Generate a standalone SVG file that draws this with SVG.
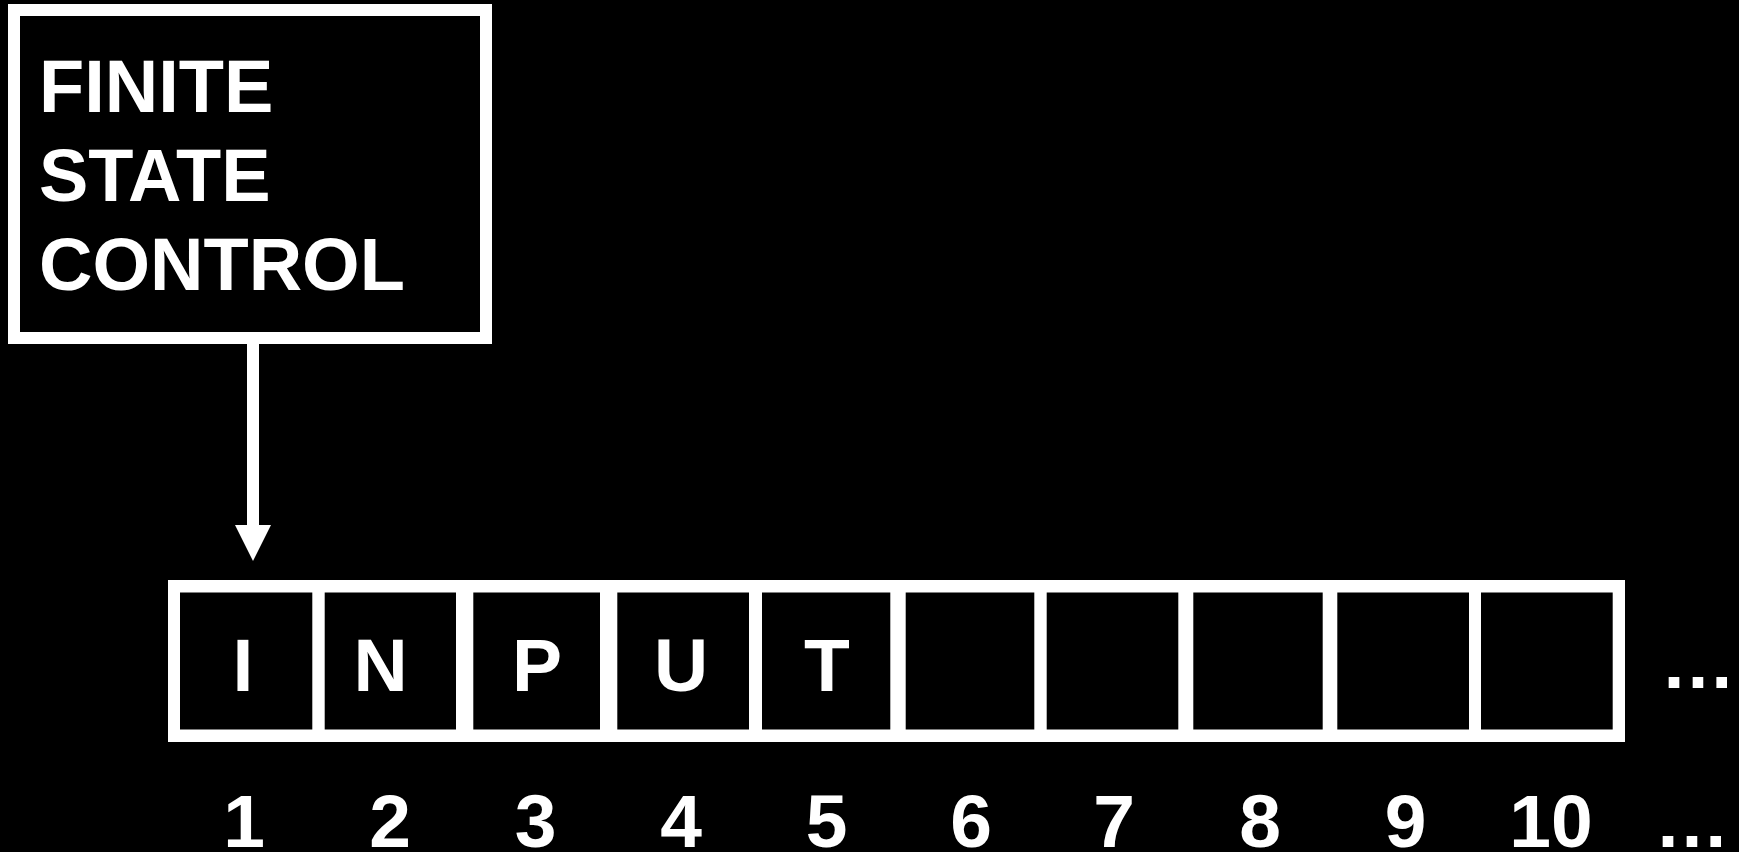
<svg xmlns="http://www.w3.org/2000/svg" width="1739" height="852" viewBox="0 0 1739 852">
  <defs>
    <style>
      .t { font-family: "Liberation Sans", Arial, sans-serif; font-weight: bold; font-size: 75px; fill: #ffffff; }
      .b { font-size: 74px; }
      .m { text-anchor: middle; }
      .cell { fill: #000000; }
    </style>
  </defs>
  <rect x="0" y="0" width="1739" height="852" fill="#000000"/>

  <g id="finite-state-control">
    <rect x="14" y="10" width="472" height="328" fill="#000000" stroke="#ffffff" stroke-width="12"/>
    <text class="t b" x="39" y="112">FINITE</text>
    <text class="t b" x="39" y="201">STATE</text>
    <text class="t b" x="39" y="290">CONTROL</text>
  </g>

  <g id="connectors">
    <line x1="253" y1="344" x2="253" y2="526" stroke="#ffffff" stroke-width="12"/>
    <polygon points="235,525 271,525 253,561" fill="#ffffff"/>
  </g>

  <g id="tape">
    <rect x="168" y="580" width="1457" height="162" fill="#ffffff"/>
    <g id="cell-1"><rect class="cell" x="180" y="592.5" width="132.3" height="137"/><text class="t m" x="243" y="691">I</text></g>
    <g id="cell-2"><rect class="cell" x="324.7" y="592.5" width="131.3" height="137"/><text class="t m" x="380.5" y="691">N</text></g>
    <g id="cell-3"><rect class="cell" x="473.3" y="592.5" width="126.7" height="137"/><text class="t m" x="537" y="691">P</text></g>
    <g id="cell-4"><rect class="cell" x="617.3" y="592.5" width="131.7" height="137"/><text class="t m" x="681" y="691">U</text></g>
    <g id="cell-5"><rect class="cell" x="762" y="592.5" width="128.3" height="137"/><text class="t m" x="827" y="691">T</text></g>
    <g id="cell-6"><rect class="cell" x="905.7" y="592.5" width="128.6" height="137"/></g>
    <g id="cell-7"><rect class="cell" x="1046.7" y="592.5" width="131.6" height="137"/></g>
    <g id="cell-8"><rect class="cell" x="1193.3" y="592.5" width="129.4" height="137"/></g>
    <g id="cell-9"><rect class="cell" x="1337.3" y="592.5" width="131.7" height="137"/></g>
    <g id="cell-10"><rect class="cell" x="1481" y="592.5" width="131.7" height="137"/></g>
    <text class="t m" x="1698" y="688">…</text>
  </g>

  <g id="positions">
    <text class="t m" x="244" y="847">1</text>
    <text class="t m" x="390" y="847">2</text>
    <text class="t m" x="535.5" y="847">3</text>
    <text class="t m" x="681" y="847">4</text>
    <text class="t m" x="826.5" y="847">5</text>
    <text class="t m" x="971" y="847">6</text>
    <text class="t m" x="1114" y="847">7</text>
    <text class="t m" x="1260" y="847">8</text>
    <text class="t m" x="1405.5" y="847">9</text>
    <text class="t m" x="1551" y="847">10</text>
    <text class="t m" x="1692" y="847">…</text>
  </g>
</svg>
